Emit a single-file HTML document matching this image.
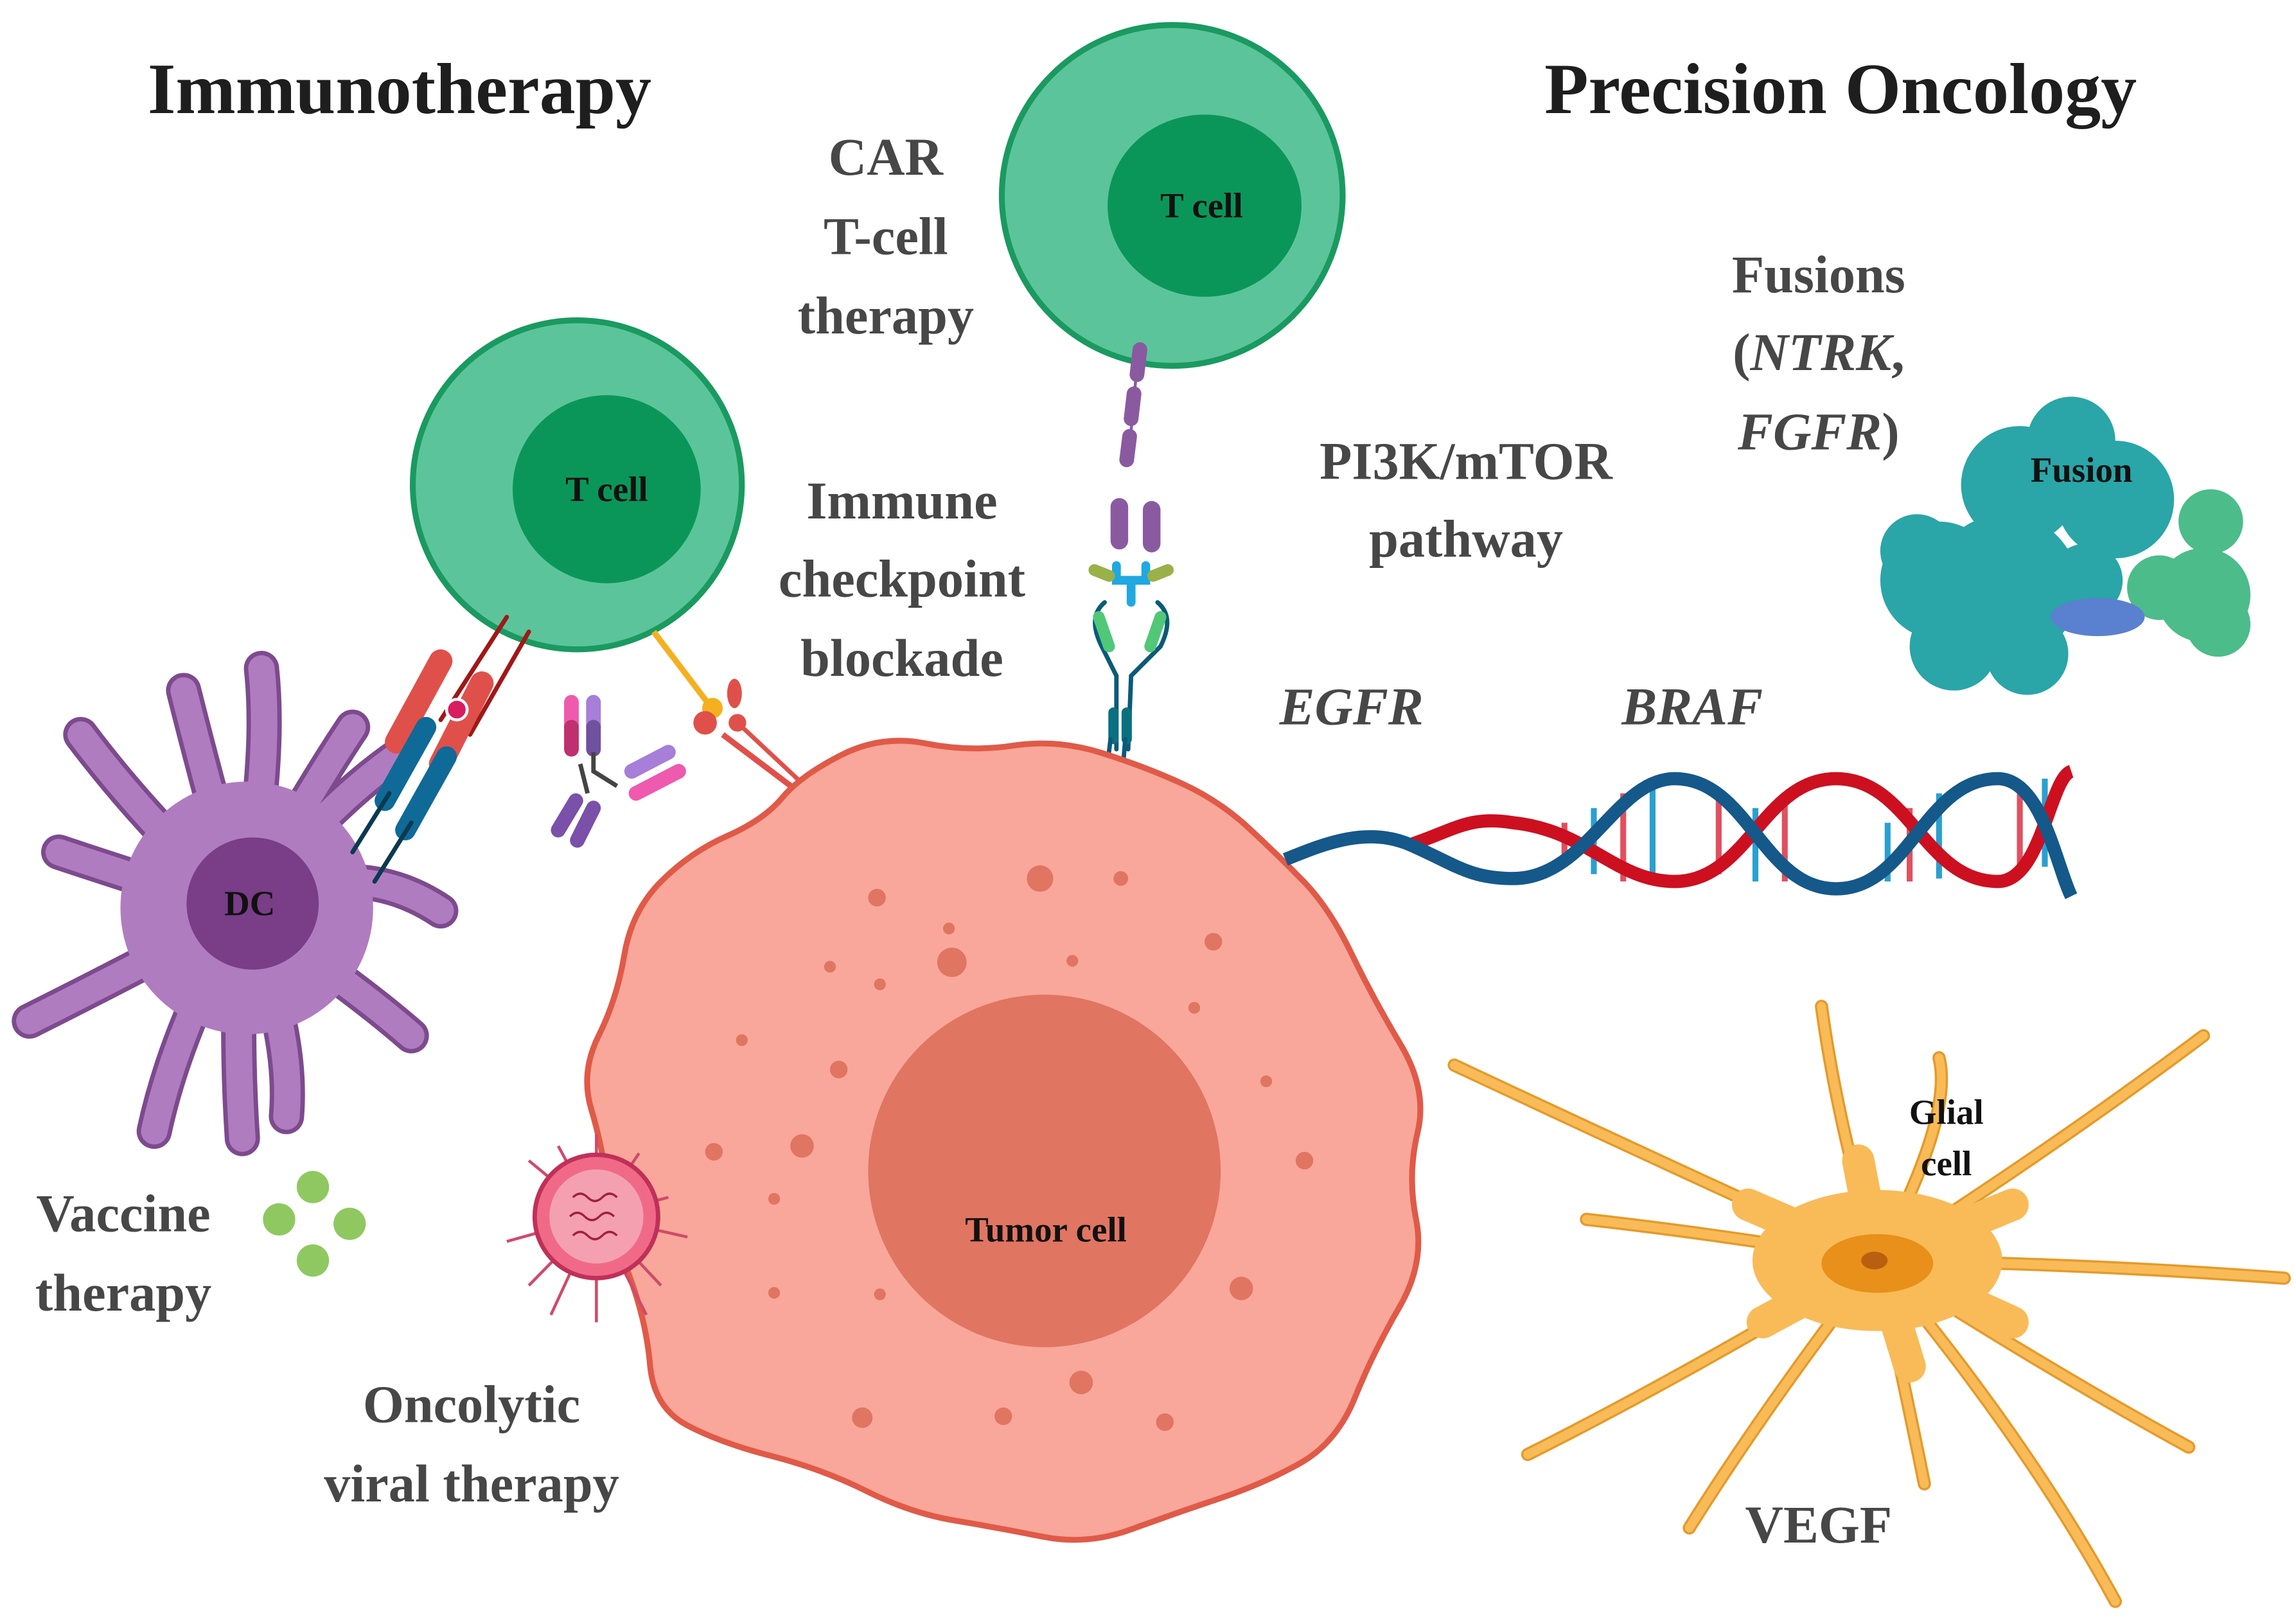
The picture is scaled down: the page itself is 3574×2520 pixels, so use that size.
<!DOCTYPE html>
<html><head><meta charset="utf-8"><style>
html,body{margin:0;padding:0;background:#fff;}
svg{display:block;}
text{font-family:"Liberation Serif",serif;}
.lab{font-size:36px;font-weight:bold;fill:#474747;text-anchor:middle;}
.tit{font-size:49px;font-weight:bold;fill:#1e1e1e;text-anchor:middle;}
.sm{font-size:24px;font-weight:bold;fill:#111;text-anchor:middle;}
</style></head><body>
<svg width="3574" height="2520" viewBox="0 0 1563 1102" preserveAspectRatio="none" xmlns="http://www.w3.org/2000/svg">
<rect width="1563" height="1102" fill="#fff"/>

<text class="tit" x="272" y="77">Immunotherapy</text>
<text class="tit" x="1253" y="77">Precision Oncology</text>

<!-- DC -->
<g stroke-linecap="round" fill="none">
<g stroke="#7d4a8e" stroke-width="24">
<path d="M165,620 Q100,560 55,500"/><path d="M165,620 Q140,530 125,470"/><path d="M165,620 Q185,520 178,455"/>
<path d="M165,620 Q210,540 240,495"/><path d="M165,620 Q240,580 300,620"/><path d="M165,620 Q240,670 280,705"/>
<path d="M165,620 Q200,700 195,760"/><path d="M165,620 Q160,700 165,775"/><path d="M165,620 Q120,700 105,770"/>
<path d="M165,620 Q90,660 20,695"/><path d="M165,620 Q100,600 40,580"/><path d="M165,620 Q220,550 270,515"/>
</g>
<g stroke="#b07cc0" stroke-width="18">
<path d="M165,620 Q100,560 55,500"/><path d="M165,620 Q140,530 125,470"/><path d="M165,620 Q185,520 178,455"/>
<path d="M165,620 Q210,540 240,495"/><path d="M165,620 Q240,580 300,620"/><path d="M165,620 Q240,670 280,705"/>
<path d="M165,620 Q200,700 195,760"/><path d="M165,620 Q160,700 165,775"/><path d="M165,620 Q120,700 105,770"/>
<path d="M165,620 Q90,660 20,695"/><path d="M165,620 Q100,600 40,580"/><path d="M165,620 Q220,550 270,515"/>
</g></g>
<circle cx="168" cy="618" r="86" fill="#b07cc0"/>
<circle cx="172" cy="615" r="45" fill="#7a3d88"/>
<text class="sm" x="170" y="623">DC</text>

<text class="lab" x="84" y="838">Vaccine</text>
<text class="lab" x="84" y="892">therapy</text>
<g fill="#8fc860">
<circle cx="213" cy="808" r="11"/><circle cx="190" cy="830" r="11"/><circle cx="238" cy="833" r="11"/><circle cx="213" cy="858" r="11"/>
</g>

<!-- left T cell -->
<circle cx="393" cy="330" r="112" fill="#5cc49a" stroke="#1a9a60" stroke-width="4"/>
<circle cx="413" cy="333" r="64" fill="#0b9659"/>
<text class="sm" x="413" y="341">T cell</text>

<!-- TCR / MHC -->
<g stroke-linecap="round">
<line x1="360" y1="430" x2="320" y2="500" stroke="#a01818" stroke-width="3"/>
<line x1="345" y1="420" x2="300" y2="490" stroke="#a01818" stroke-width="3"/>
<line x1="300" y1="450" x2="270" y2="505" stroke="#e0504a" stroke-width="16"/>
<line x1="328" y1="465" x2="300" y2="520" stroke="#e0504a" stroke-width="16"/>
<circle cx="311" cy="483" r="7" fill="#d81c60" stroke="#fff" stroke-width="2"/>
<line x1="290" y1="495" x2="262" y2="545" stroke="#0f6a98" stroke-width="14"/>
<line x1="304" y1="515" x2="276" y2="565" stroke="#0f6a98" stroke-width="14"/>
<line x1="265" y1="540" x2="240" y2="580" stroke="#0a3a50" stroke-width="3"/>
<line x1="280" y1="560" x2="255" y2="600" stroke="#0a3a50" stroke-width="3"/>
</g>
<!-- antibody -->
<g stroke-linecap="round" stroke-width="10">
<line x1="389" y1="478" x2="389" y2="495" stroke="#ee5aae"/><line x1="389" y1="495" x2="389" y2="510" stroke="#c03070"/>
<line x1="404" y1="478" x2="404" y2="495" stroke="#a77ed8"/><line x1="404" y1="495" x2="404" y2="510" stroke="#7050a0"/>
<line x1="392" y1="545" x2="380" y2="565" stroke="#7a50a8"/><line x1="404" y1="550" x2="393" y2="572" stroke="#7a50a8"/>
<line x1="430" y1="525" x2="455" y2="512" stroke="#a77ed8"/><line x1="433" y1="540" x2="462" y2="525" stroke="#ee5aae"/>
</g>
<path d="M404,512 L404,525 L420,535 M395,520 L400,540" stroke="#444" stroke-width="3" fill="none"/>
<!-- PD1 / PDL1 -->
<line x1="445" y1="430" x2="483" y2="480" stroke="#f5b020" stroke-width="4"/>
<circle cx="485" cy="482" r="7" fill="#f5b020"/>
<ellipse cx="500" cy="472" rx="5" ry="10" fill="#e0504a"/>
<circle cx="480" cy="492" r="8" fill="#e0504a"/><circle cx="502" cy="492" r="6" fill="#e0504a"/>
<line x1="492" y1="500" x2="545" y2="540" stroke="#e0504a" stroke-width="4"/>
<line x1="500" y1="490" x2="548" y2="535" stroke="#e0504a" stroke-width="3"/>

<text class="lab" x="614" y="353">Immune</text>
<text class="lab" x="614" y="406">checkpoint</text>
<text class="lab" x="614" y="460">blockade</text>

<text class="lab" x="603" y="119">CAR</text>
<text class="lab" x="603" y="173">T-cell</text>
<text class="lab" x="603" y="227">therapy</text>

<!-- top T cell -->
<circle cx="798" cy="133" r="116" fill="#5cc49a" stroke="#1a9a60" stroke-width="4"/>
<ellipse cx="820" cy="140" rx="66" ry="62" fill="#0b9659"/>
<text class="sm" x="818" y="148">T cell</text>
<!-- CAR -->
<g stroke-linecap="round">
<line x1="775" y1="238" x2="768" y2="315" stroke="#8a5aa0" stroke-width="2"/>
<line x1="776" y1="238" x2="774" y2="255" stroke="#8a5aa0" stroke-width="10"/>
<line x1="772" y1="268" x2="770" y2="285" stroke="#8a5aa0" stroke-width="10"/>
<line x1="769" y1="297" x2="767" y2="313" stroke="#8a5aa0" stroke-width="10"/>
<line x1="762" y1="345" x2="762" y2="368" stroke="#8a5aa0" stroke-width="12"/>
<line x1="784" y1="347" x2="784" y2="370" stroke="#8a5aa0" stroke-width="12"/>
<path d="M760,385 L760,395 L780,395 L780,385 M770,395 L770,410" stroke="#20a8e0" stroke-width="6" fill="none"/>
<line x1="745" y1="388" x2="755" y2="392" stroke="#9ab048" stroke-width="8"/>
<line x1="785" y1="392" x2="795" y2="388" stroke="#9ab048" stroke-width="8"/>
<path d="M752,410 Q740,420 750,440 L760,460 L760,510 M788,410 Q800,420 790,440 L770,460 L768,510" stroke="#0a5a78" stroke-width="3" fill="none"/>
<line x1="748" y1="420" x2="755" y2="440" stroke="#50c878" stroke-width="8"/>
<line x1="790" y1="420" x2="783" y2="440" stroke="#50c878" stroke-width="8"/>
<line x1="758" y1="485" x2="758" y2="503" stroke="#0a7080" stroke-width="7"/>
<line x1="767" y1="485" x2="767" y2="503" stroke="#0a7080" stroke-width="7"/>
<line x1="756" y1="503" x2="753" y2="528" stroke="#0a5a78" stroke-width="3"/>
<line x1="766" y1="503" x2="764" y2="528" stroke="#0a5a78" stroke-width="3"/>
</g>

<!-- tumor -->
<path d="M532.5,543 Q545,528 572.5,514 Q600,500 630,506 Q660,512 690,507.5 Q720,503 750,512.5 Q780,522 805,533.5 Q830,545 850,563.5 Q870,582 887.5,600 Q905,618 920,649 Q935,680 953.5,711 Q972,742 965,771 Q958,800 964,830 Q970,860 952.5,890 Q935,920 922.5,951 Q910,982 885,996 Q860,1010 830,1020 Q800,1030 770,1041 Q740,1052 710,1046 Q680,1040 650,1035 Q620,1030 590,1015 Q560,1000 525,991 Q490,982 467.5,970 Q445,958 442.5,929 Q440,900 429,870 Q418,840 414,810 Q410,780 402.5,755 Q395,730 407.5,705 Q420,680 425,650 Q430,620 450,600 Q470,580 495,569 Q520,558 532.5,543 Z" fill="#f9a79a" stroke="#e05a48" stroke-width="4"/>
<g fill="#e07562">
<circle cx="597" cy="611" r="6"/><circle cx="708" cy="598" r="9"/><circle cx="763" cy="598" r="5"/><circle cx="646" cy="632" r="4"/>
<circle cx="648" cy="655" r="10"/><circle cx="826" cy="641" r="6"/><circle cx="565" cy="658" r="4"/><circle cx="599" cy="670" r="4"/>
<circle cx="730" cy="654" r="4"/><circle cx="813" cy="686" r="4"/><circle cx="505" cy="708" r="4"/><circle cx="571" cy="728" r="6"/>
<circle cx="862" cy="736" r="4"/><circle cx="546" cy="780" r="8"/><circle cx="486" cy="784" r="6"/><circle cx="888" cy="790" r="6"/>
<circle cx="527" cy="816" r="4"/><circle cx="527" cy="880" r="4"/><circle cx="599" cy="881" r="4"/><circle cx="845" cy="877" r="8"/>
<circle cx="736" cy="941" r="8"/><circle cx="587" cy="965" r="7"/><circle cx="683" cy="964" r="6"/><circle cx="793" cy="968" r="6"/>
</g>
<circle cx="711" cy="797" r="120" fill="#e07562"/>
<text class="sm" x="712" y="845">Tumor cell</text>

<!-- virus -->
<g stroke="#d04a6a" stroke-width="2">
<line x1="406" y1="828" x2="406" y2="772"/><line x1="406" y1="828" x2="406" y2="900"/><line x1="406" y1="828" x2="345" y2="845"/><line x1="406" y1="828" x2="468" y2="842"/>
<line x1="406" y1="828" x2="360" y2="790"/><line x1="406" y1="828" x2="455" y2="815"/><line x1="406" y1="828" x2="360" y2="875"/><line x1="406" y1="828" x2="450" y2="875"/>
<line x1="406" y1="828" x2="380" y2="780"/><line x1="406" y1="828" x2="435" y2="785"/><line x1="406" y1="828" x2="375" y2="895"/><line x1="406" y1="828" x2="440" y2="895"/>
</g>
<circle cx="406" cy="828" r="42" fill="#f06a88" stroke="#c03058" stroke-width="3"/>
<circle cx="406" cy="828" r="32" fill="#f5a0b0"/>
<path d="M390,815 q5,-5 10,0 t10,0 t10,0 M388,828 q5,-5 10,0 t10,0 t10,0 M390,841 q5,-5 10,0 t10,0 t10,0" stroke="#a02040" stroke-width="1.5" fill="none"/>

<text class="lab" x="321" y="968">Oncolytic</text>
<text class="lab" x="321" y="1022">viral therapy</text>

<!-- right labels -->
<text class="lab" x="1238" y="199">Fusions</text>
<text class="lab" x="1238" y="252">(<tspan font-style="italic">NTRK</tspan>,</text>
<text class="lab" x="1238" y="306"><tspan font-style="italic">FGFR</tspan>)</text>
<text class="lab" x="998" y="326">PI3K/mTOR</text>
<text class="lab" x="998" y="379">pathway</text>
<text class="lab" x="920" y="493" font-style="italic">EGFR</text>
<text class="lab" x="1152" y="493" font-style="italic">BRAF</text>

<!-- fusion protein -->
<g fill="#2aa5a8">
<circle cx="1410" cy="300" r="30"/><circle cx="1375" cy="330" r="40"/><circle cx="1440" cy="340" r="40"/>
<circle cx="1320" cy="395" r="40"/><circle cx="1365" cy="400" r="50"/><circle cx="1330" cy="440" r="30"/>
<circle cx="1380" cy="445" r="28"/><circle cx="1420" cy="395" r="25"/><circle cx="1305" cy="375" r="25"/>
</g>
<g fill="#4cbc8a">
<circle cx="1505" cy="355" r="22"/><circle cx="1500" cy="405" r="32"/><circle cx="1470" cy="400" r="22"/><circle cx="1510" cy="425" r="22"/>
</g>
<ellipse cx="1428" cy="420" rx="32" ry="13" fill="#5a80d0"/>
<text class="sm" x="1417" y="328" font-size="22">Fusion</text>

<!-- DNA -->
<g stroke-width="4">
<line x1="1065" y1="560" x2="1065" y2="590" stroke="#e05060"/><line x1="1085" y1="550" x2="1085" y2="595" stroke="#2aa0d0"/>
<line x1="1105" y1="540" x2="1105" y2="600" stroke="#e05060"/><line x1="1125" y1="535" x2="1125" y2="598" stroke="#2aa0d0"/>
<line x1="1170" y1="545" x2="1170" y2="595" stroke="#e05060"/><line x1="1195" y1="550" x2="1195" y2="600" stroke="#2aa0d0"/>
<line x1="1215" y1="540" x2="1215" y2="600" stroke="#e05060"/><line x1="1285" y1="560" x2="1285" y2="600" stroke="#2aa0d0"/>
<line x1="1300" y1="550" x2="1300" y2="600" stroke="#e05060"/><line x1="1320" y1="540" x2="1320" y2="598" stroke="#2aa0d0"/>
<line x1="1375" y1="540" x2="1375" y2="595" stroke="#e05060"/><line x1="1392" y1="530" x2="1392" y2="590" stroke="#2aa0d0"/>
</g>
<path d="M960,575 C990,565 1000,555 1030,560 C1080,565 1100,600 1140,600 C1190,600 1200,530 1250,530 C1300,530 1310,600 1360,600 C1390,600 1395,530 1410,525" stroke="#cc1020" stroke-width="9" fill="none"/>
<path d="M875,585 C900,575 930,562 960,575 C990,588 1000,598 1030,598 C1080,598 1100,530 1140,530 C1190,530 1200,605 1250,605 C1300,605 1310,530 1360,530 C1390,530 1400,590 1410,610" stroke="#15588a" stroke-width="9" fill="none"/>

<!-- glial cell -->
<g fill="none" stroke-linecap="round">
<g stroke="#e59a2a" stroke-width="9">
<path d="M1278,858 Q1150,800 990,725"/><path d="M1278,858 Q1140,940 1040,990"/><path d="M1278,858 Q1200,960 1150,1040"/>
<path d="M1278,858 Q1250,760 1240,685"/><path d="M1278,858 Q1330,760 1320,720"/><path d="M1278,858 Q1400,780 1500,705"/>
<path d="M1278,858 Q1420,860 1555,870"/><path d="M1278,858 Q1390,930 1490,985"/><path d="M1278,858 Q1380,980 1440,1090"/>
<path d="M1278,858 Q1300,960 1310,1010"/><path d="M1278,858 Q1170,840 1080,830"/>
</g>
<g stroke="#f8bb58" stroke-width="6">
<path d="M1278,858 Q1150,800 990,725"/><path d="M1278,858 Q1140,940 1040,990"/><path d="M1278,858 Q1200,960 1150,1040"/>
<path d="M1278,858 Q1250,760 1240,685"/><path d="M1278,858 Q1330,760 1320,720"/><path d="M1278,858 Q1400,780 1500,705"/>
<path d="M1278,858 Q1420,860 1555,870"/><path d="M1278,858 Q1390,930 1490,985"/><path d="M1278,858 Q1380,980 1440,1090"/>
<path d="M1278,858 Q1300,960 1310,1010"/><path d="M1278,858 Q1170,840 1080,830"/>
</g>
<g stroke="#f8bb58" stroke-width="22">
<path d="M1278,858 L1190,820"/><path d="M1278,858 L1200,900"/><path d="M1278,858 L1370,820"/><path d="M1278,858 L1370,900"/><path d="M1278,858 L1265,790"/><path d="M1278,858 L1300,930"/>
</g></g>
<ellipse cx="1278" cy="858" rx="85" ry="48" fill="#f8bb58"/>
<ellipse cx="1278" cy="860" rx="38" ry="20" fill="#e8901a"/>
<ellipse cx="1276" cy="858" rx="9" ry="6" fill="#b86010"/>
<text class="sm" x="1325" y="765">Glial</text>
<text class="sm" x="1325" y="800">cell</text>
<text class="lab" x="1238" y="1050">VEGF</text>
</svg>
</body></html>
